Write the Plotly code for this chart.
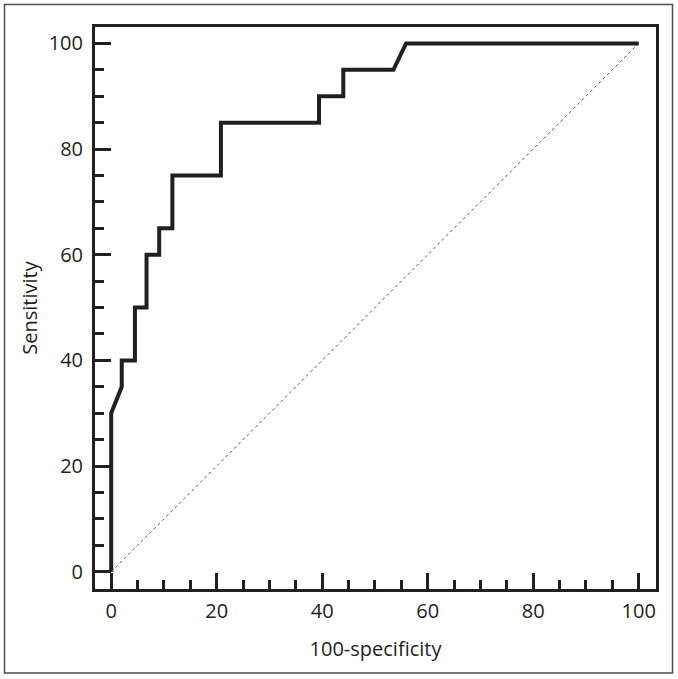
import plotly.graph_objects as go

# ROC curve values (100-specificity, sensitivity)
fpr = [0, 0, 2.0, 2.0, 4.5, 4.5, 6.7, 6.7, 9.1, 9.1, 11.6, 11.6, 20.8, 20.8, 39.4, 39.4, 44.0, 44.0, 53.5, 55.9, 100]
tpr = [0, 30, 35, 40, 40, 50, 50, 60, 60, 65, 65, 75, 75, 85, 85, 90, 90, 95, 95, 100, 100]
ref_x = [0, 100]
ref_y = [0, 100]
tick_vals = [0, 20, 40, 60, 80, 100]
x_title = "100-specificity"
y_title = "Sensitivity"

FONT = "Open Sans"
INK = "#231f20"
FS = 20

fig = go.Figure()
fig.add_trace(go.Scatter(x=ref_x, y=ref_y, mode="lines",
                         line=dict(color="#555555", width=1, dash="dot"),
                         hoverinfo="skip", showlegend=False))
fig.add_trace(go.Scatter(x=fpr, y=tpr, mode="lines",
                         line=dict(color=INK, width=4),
                         showlegend=False))

L, R, T, B = 95, 22, 27, 90
W, H = 678, 679
pw, ph = W - L - R, H - T - B

def axis(rng, title, standoff):
    return dict(
        range=rng, tickvals=tick_vals, ticks="inside", ticklen=16, tickwidth=3,
        tickcolor=INK, showline=True, linecolor=INK, linewidth=3, mirror=True,
        showgrid=False, zeroline=False,
        tickfont=dict(family=FONT, size=FS, color=INK),
        minor=dict(ticks="inside", ticklen=9, tickwidth=3, tickcolor=INK, dtick=5, tick0=0, showgrid=False),
        title=dict(text=title, font=dict(family=FONT, size=FS, color=INK), standoff=standoff),
    )

xa = axis([-3.07, 103.28], x_title, 19)
xa["ticklabelstandoff"] = 2
ya = axis([-3.27, 103.1], y_title, 6)
ya["ticklabelstandoff"] = 5

def px2paper_x(px):
    return (px - L) / pw

def px2paper_y(py):
    return (H - B - py) / ph

fig.update_layout(
    width=W, height=H,
    margin=dict(l=L, r=R, t=T, b=B),
    paper_bgcolor="white", plot_bgcolor="white",
    xaxis=xa, yaxis=ya,
    shapes=[dict(type="rect", xref="paper", yref="paper",
                 x0=px2paper_x(4.5), x1=px2paper_x(672.5),
                 y0=px2paper_y(673), y1=px2paper_y(4.5),
                 line=dict(color="#4d4d4d", width=1.5), layer="below")],
)

fig.write_html("out.html", config={"displayModeBar": False},
               post_script="document.body.style.margin='0';document.body.style.overflow='hidden';")
